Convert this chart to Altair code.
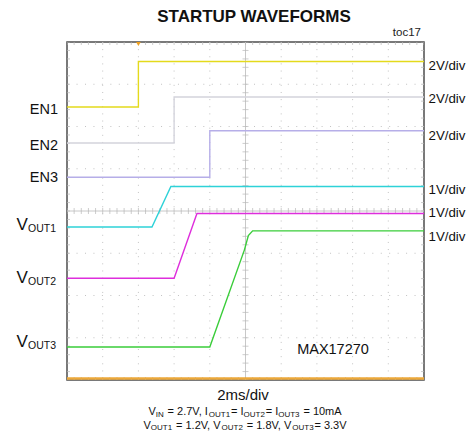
import altair as alt
import pandas as pd
import numpy as np

# ---------------- data (scope divisions: x 0..10 at 2ms/div, y 0..8 div) ----------------
en1_x = [0.0, 2.0, 2.0, 10.0]
en1_y = [6.46, 6.46, 7.54, 7.54]
en2_x = [0.0, 3.0, 3.0, 10.0]
en2_y = [5.61, 5.61, 6.70, 6.70]
en3_x = [0.0, 4.0, 4.0, 10.0]
en3_y = [4.80, 4.80, 5.90, 5.90]
vout1_x = [0.0, 2.38, 2.91, 10.0]
vout1_y = [3.62, 3.62, 4.58, 4.58]
vout2_x = [0.0, 3.0, 3.64, 10.0]
vout2_y = [2.41, 2.41, 3.94, 3.94]
vout3_x = [0.0, 4.0, 4.97, 5.08, 5.2, 10.0]
vout3_y = [0.78, 0.78, 3.08, 3.42, 3.53, 3.53]

series_names = ["EN1", "EN2", "EN3", "VOUT1", "VOUT2", "VOUT3"]
series_colors = ["#e4da1c", "#d4d4dc", "#b6aee8", "#2ed2d8", "#de2edc", "#3acd3a"]

en_labels = ["EN1", "EN2", "EN3"]
vout_subs = ["OUT1", "OUT2", "OUT3"]
scale_labels = ["2V/div", "2V/div", "2V/div", "1V/div", "1V/div", "1V/div"]
title_text = "STARTUP WAVEFORMS"
toc_text = "toc17"
part_text = "MAX17270"
xaxis_text = "2ms/div"
foot1 = [("V", 0), ("IN", 1), (" = 2.7V, I", 0), ("OUT1", 1), ("= I", 0),
         ("OUT2", 1), ("= I", 0), ("OUT3", 1), (" = 10mA", 0)]
foot2 = [("V", 0), ("OUT1", 1), (" = 1.2V, V", 0), ("OUT2", 1), (" = 1.8V, V", 0),
         ("OUT3", 1), ("= 3.3V", 0)]

# ---------------- layout ----------------
L, T, W, H = 67, 42, 357, 338          # plot frame on the page (px)
FONT = "Liberation Sans, Arial"


def dx(px):
    return (px - L) / (W / 10)


def dy(py):
    return (T + H - py) / (H / 8)


xs = alt.Scale(domain=[0, 10], nice=False, zero=False)
ys = alt.Scale(domain=[0, 8], nice=False, zero=False)


def X(f="x"):
    return alt.X(f + ":Q", scale=xs, axis=None)


def Y(f="y"):
    return alt.Y(f + ":Q", scale=ys, axis=None)


layers = []

# grid
gcol = "#c2c2c2"
vg = pd.DataFrame({"x": [1, 2, 3, 4, 6, 7, 8, 9]})
hg = pd.DataFrame({"y": [1, 2, 3, 5, 6, 7]})
layers.append(alt.Chart(vg).mark_rule(color=gcol, strokeDash=[1, 6.14], strokeWidth=1).encode(x=X()))
layers.append(alt.Chart(hg).mark_rule(color=gcol, strokeDash=[1, 7.45], strokeWidth=1).encode(y=Y()))
layers.append(alt.Chart(pd.DataFrame({"x": [5]})).mark_rule(color="#c8c8c8", strokeWidth=1).encode(x=X()))
layers.append(alt.Chart(pd.DataFrame({"y": [4]})).mark_rule(color="#c8c8c8", strokeWidth=1).encode(y=Y()))

# minor ticks on centre lines and frame
mx = np.round(np.arange(0, 10.001, 0.2), 3)
my = np.round(np.arange(0, 8.001, 0.2), 3)
tx = pd.DataFrame([(a, b) for b in (0, 4, 8) for a in mx], columns=["x", "y"])
ty = pd.DataFrame([(a, b) for a in (0, 5, 10) for b in my], columns=["x", "y"])
layers.append(alt.Chart(tx).mark_tick(orient="vertical", size=6, thickness=1, color="#b8b8b8", clip=True)
              .encode(x=X(), y=Y()))
layers.append(alt.Chart(ty).mark_tick(orient="horizontal", size=6, thickness=1, color="#b8b8b8", clip=True)
              .encode(x=X(), y=Y()))

# traces
rows = []
for name, xv, yv in zip(series_names,
                        [en1_x, en2_x, en3_x, vout1_x, vout2_x, vout3_x],
                        [en1_y, en2_y, en3_y, vout1_y, vout2_y, vout3_y]):
    for i, (a, b) in enumerate(zip(xv, yv)):
        rows.append((name, i, a, b))
tr = pd.DataFrame(rows, columns=["s", "o", "x", "y"])
layers.append(alt.Chart(tr).mark_line(strokeWidth=1.4, clip=True).encode(
    x=X(), y=Y(), order="o:Q",
    color=alt.Color("s:N", scale=alt.Scale(domain=series_names, range=series_colors), legend=None)))

# orange ground line and trigger marker
layers.append(alt.Chart(pd.DataFrame({"y": [dy(378.5)]})).mark_rule(color="#eca83a", strokeWidth=2.5).encode(y=Y()))
layers.append(alt.Chart(pd.DataFrame({"x": [2.0], "y": [dy(44)]})).mark_point(
    shape="triangle-down", filled=True, size=22, color="#eea020", opacity=1).encode(x=X(), y=Y()))


def txt(rows_, **kw):
    df = pd.DataFrame(rows_, columns=["x", "y", "t"])
    return alt.Chart(df).mark_text(**kw).encode(x=X(), y=Y(), text="t:N")


# left labels
layers.append(txt([(dx(58), dy(py), t) for py, t in zip([110, 146, 178], en_labels)],
                  align="right", baseline="middle", font=FONT, fontSize=14.5, color="#111"))
vb = [230, 283, 347]
layers.append(txt([(dx(16.5), dy(b), "V") for b in vb],
                  align="left", baseline="alphabetic", font=FONT, fontSize=17, color="#111"))
layers.append(txt([(dx(28), dy(b + 2), s) for b, s in zip(vb, vout_subs)],
                  align="left", baseline="alphabetic", font=FONT, fontSize=10.5, color="#111"))

# right labels
layers.append(txt([(dx(428.5), dy(py), t) for py, t in zip([65.5, 99, 135.5, 189.5, 212.5, 236.5], scale_labels)],
                  align="left", baseline="middle", font=FONT, fontSize=13.3, color="#111"))

# title, toc, part number, x label
layers.append(txt([(dx(254), dy(17), title_text)], align="center", baseline="middle",
                  font=FONT, fontSize=17, fontWeight="bold", color="#111"))
layers.append(txt([(dx(421), dy(33), toc_text)], align="right", baseline="middle",
                  font=FONT, fontSize=11.5, color="#222"))
layers.append(txt([(dx(333), dy(349.5), part_text)], align="center", baseline="middle",
                  font=FONT, fontSize=14.5, color="#111"))
layers.append(txt([(dx(243), dy(395), xaxis_text)], align="center", baseline="middle",
                  font=FONT, fontSize=15, color="#111"))

# footnotes with subscripts
CW = {' ': 278, '=': 584, '.': 278, ',': 278, 'V': 667, 'I': 278, 'N': 722, 'O': 778,
      'U': 722, 'T': 611, 'm': 833, 'A': 667}
for d in "0123456789":
    CW[d] = 556
NS, SS = 11, 8


def tw(s, size):
    return sum(CW[c] for c in s) * size / 1000


for segs, base in ((foot1, 415), (foot2, 428.5)):
    total = sum(tw(s, SS if sub else NS) + (0.8 if sub else 0) for s, sub in segs)
    x0 = 245 - total / 2
    nrm, sbs = [], []
    for s, sub in segs:
        size = SS if sub else NS
        lead = len(s) - len(s.lstrip())
        xr = x0 + tw(s[:lead], size)
        if sub:
            sbs.append((dx(xr), dy(base + 1.5), s.strip()))
            x0 += 0.8
        else:
            nrm.append((dx(xr), dy(base), s.strip()))
        x0 += tw(s, size)
    layers.append(txt(nrm, align="left", baseline="alphabetic", font=FONT, fontSize=NS, color="#111"))
    layers.append(txt(sbs, align="left", baseline="alphabetic", font=FONT, fontSize=SS, color="#111"))

chart = alt.layer(*layers).properties(
    width=W, height=H,
    autosize=alt.AutoSizeParams(type="none"),
    padding={"left": L - 8, "top": T - 8, "right": 42, "bottom": 55},
    background="white",
).configure_view(stroke="#4d4d4d", strokeWidth=1.5)

chart.save("out.html", embed_options={"renderer": "svg", "actions": False})
